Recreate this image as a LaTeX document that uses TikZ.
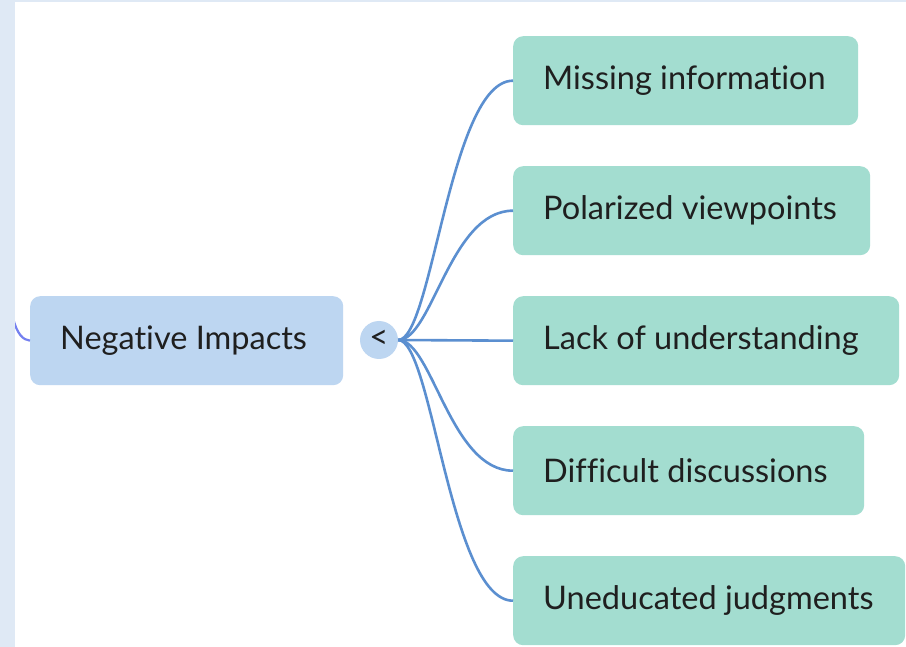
\documentclass[tikz,border=0pt]{standalone}
\usepackage{fontspec}
\setmainfont[Ligatures={NoCommon}]{Lato}
\definecolor{stripbg}{HTML}{DFE9F5}
\definecolor{rootfill}{HTML}{BDD6F1}
\definecolor{childfill}{HTML}{A3DDD0}
\definecolor{connblue}{HTML}{5B8FD0}
\definecolor{parentconn}{HTML}{7480F0}
\definecolor{textdark}{HTML}{1F1F1F}
\newcommand{\boxfont}{\fontsize{32.5}{36}\selectfont}
\newcommand{\fixlabel}[2]{\makebox[#1][l]{#2}}
\begin{document}
\begin{tikzpicture}[x=1pt,y=-1pt,
  childbox/.style={fill=childfill, rounded corners=10pt, minimum height=89pt,
    inner xsep=30pt, inner ysep=0pt, anchor=north west,
    font=\boxfont, text=textdark},
  rootbox/.style={childbox, fill=rootfill},
  conn/.style={draw=connblue, line width=2.6pt},
  togglecircle/.style={circle, fill=rootfill, minimum size=38pt, inner sep=0pt}
]
\useasboundingbox (0,0) rectangle (906,647);
\fill[white] (0,0) rectangle (906,647);
% incoming connector from the off-screen parent
\coordinate (pin) at (13,318);
\node[rootbox] (root) at (30,296) {\fixlabel{253pt}{Negative Impacts}};
\draw[draw=parentconn, line width=2.2pt] (pin) .. controls (17,334) and (23,340) .. (root.west);
% side strips
\fill[stripbg] (0,0) rectangle (15,647);
\fill[stripbg] (0,0) rectangle (906,2);
\node[togglecircle] (tog) at (379,340) {};
\node[font=\fontsize{33}{33}\selectfont, text=textdark, inner sep=0pt] (togsign) at (379,339) {<};
\node[childbox] (m1) at (513,36) {\fixlabel{285pt}{Missing information}};
\node[childbox] (m2) at (513,166) {\fixlabel{297pt}{Polarized viewpoints}};
\node[childbox] (m3) at (513,296) {\fixlabel{326pt}{Lack of understanding}};
\node[childbox] (m4) at (513,426) {\fixlabel{291pt}{Difficult discussions}};
\node[childbox] (m5) at (513,556) {\fixlabel{332pt}{Uneducated judgments}};
\draw[conn] (tog.east) .. controls +(34,0) and +(-63,0) .. (m1.west);
\draw[conn] (tog.east) .. controls +(34,0) and +(-63,0) .. (m2.west);
\draw[conn] (tog.east) -- (m3.west);
\draw[conn] (tog.east) .. controls +(34,0) and +(-63,0) .. (m4.west);
\draw[conn] (tog.east) .. controls +(34,0) and +(-63,0) .. (m5.west);
\end{tikzpicture}
\end{document}
